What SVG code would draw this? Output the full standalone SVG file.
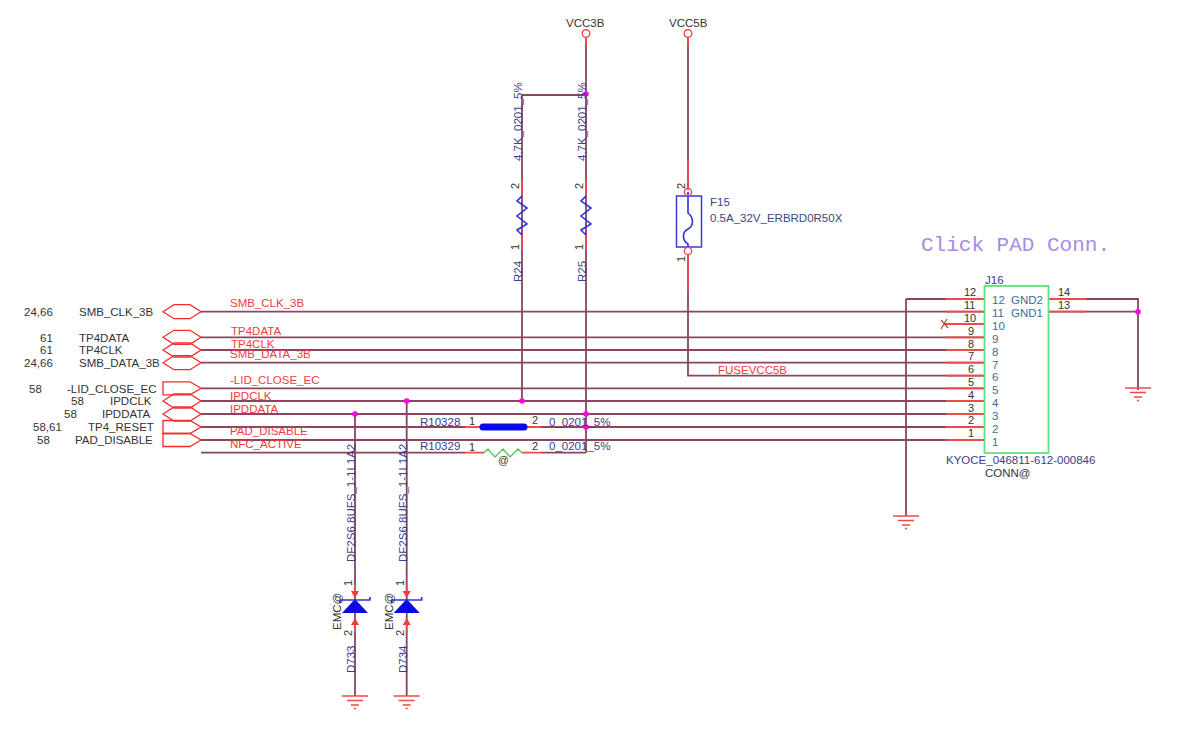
<svg xmlns="http://www.w3.org/2000/svg" width="1200" height="745" viewBox="0 0 1200 745">
<style>
text{font-family:"Liberation Sans",Arial,sans-serif;font-size:11.5px}
.w{fill:none;stroke:#8a4560;stroke-width:1.8}
.r{fill:none;stroke:#f24a4a;stroke-width:1.8}
.f{fill:none;stroke:#f02c2c;stroke-width:1.3}
.b{fill:none;stroke:#2f2fe0;stroke-width:1.6}
.n{fill:#f03c3c}
.t{fill:#333}
.u{fill:#3c3c8e}
.p{fill:#3f6c96}
.k{fill:#333;font-size:11px}
.g{fill:none;stroke:#f04a4a;stroke-width:1.3}
</style>
<defs>
<g id="gnd"><path class="g" d="M-13 0H13M-8 4.500H8M-4 9H4M-1 12.500H1"/></g>
<path id="bi" class="f" d="M-38 0L-27-7H-11L0 0L-11 7H-27Z"/>
<path id="in" class="f" d="M-38-6.500H-11L0 0L-11 6.500H-38Z"/>
</defs>
<g id="connectors">
<path class="w" d="M201 311.700H984M201 337.300H984M201 350H984M201 362.700H984M201 388.300H984M201 401H984M201 414H984M201 427H984M201 440H984"/>
<path class="w" d="M201 452.700H465M541 452.700H586M586 33V452.700M522 95H586M522 95V401M688 33V190M688 255V375.600H984M906 299H984M906 299V516M1048 299H1138V390M1048 311.700H1138M355 414V696M406.700 401V696"/>
<path class="r" d="M946 299H984M946 311.700H984M946 337.300H984M946 350H984M946 362.700H984M946 375.600H984M946 388.300H984M946 401H984M946 414H984M946 427H984M946 440H984M945 324H984M1048 299H1086M1048 311.700H1086M465 427H481M526 427H541M465 452.700H484M522 452.700H541M586 180V196M586 234V250M522 180V196M522 234V250M688 160V190M688 255V290M586 33V46M688 33V46M355 585V592M355 620V632M406.700 585V592M406.700 620V632"/>
<path d="M941 329L947 319M941 320L948 328" fill="none" stroke="#a8553a" stroke-width="1.300"/>
<g fill="#ff00e0"><circle cx="586" cy="94" r="2.800"/><circle cx="522" cy="401" r="2.800"/><circle cx="586" cy="414" r="2.800"/><circle cx="586" cy="427" r="2.800"/><circle cx="355" cy="414" r="2.800"/><circle cx="406.700" cy="401" r="2.800"/><circle cx="1138" cy="311.700" r="2.800"/></g>
</g>
<g id="flags">
<use href="#bi" x="201" y="311.700"/><use href="#bi" x="201" y="337.300"/><use href="#bi" x="201" y="350"/><use href="#bi" x="201" y="362.700"/>
<use href="#in" x="201" y="388.300"/><use href="#bi" x="201" y="401"/><use href="#bi" x="201" y="414"/><use href="#in" x="201" y="427"/><use href="#in" x="201" y="440"/>
<text x="24" y="316" class="t">24,66</text><text x="79" y="316" class="t">SMB_CLK_3B</text>
<text x="40" y="342" class="t">61</text><text x="79" y="342" class="t">TP4DATA</text>
<text x="40" y="354" class="t">61</text><text x="79" y="354" class="t">TP4CLK</text>
<text x="24" y="367" class="t">24,66</text><text x="79" y="367" class="t">SMB_DATA_3B</text>
<text x="29" y="393" class="t">58</text><text x="67" y="393" class="t">-LID_CLOSE_EC</text>
<text x="71" y="405" class="t">58</text><text x="110" y="405" class="t">IPDCLK</text>
<text x="64" y="418" class="t">58</text><text x="102" y="418" class="t">IPDDATA</text>
<text x="33" y="431" class="t">58,61</text><text x="88" y="431" class="t">TP4_RESET</text>
<text x="37" y="444" class="t">58</text><text x="75" y="444" class="t">PAD_DISABLE</text>
<text x="230" y="307" class="n">SMB_CLK_3B</text>
<text x="231" y="335" class="n">TP4DATA</text>
<text x="231" y="348" class="n">TP4CLK</text>
<text x="230" y="358" class="n">SMB_DATA_3B</text>
<text x="230" y="384" class="n">-LID_CLOSE_EC</text>
<text x="230" y="400" class="n">IPDCLK</text>
<text x="230" y="413" class="n">IPDDATA</text>
<text x="230" y="435" class="n">PAD_DISABLE</text>
<text x="230" y="448" class="n">NFC_ACTIVE</text>
<text x="718" y="374" class="n">FUSEVCC5B</text>
</g>
<g id="VCC3B"><circle cx="586" cy="33.500" r="3.800" fill="#fff" stroke="#f24a4a" stroke-width="1.400"/><text x="566" y="27" class="t">VCC3B</text></g>
<g id="VCC5B"><circle cx="688" cy="33.500" r="3.800" fill="#fff" stroke="#f24a4a" stroke-width="1.400"/><text x="669" y="27" class="t">VCC5B</text></g>
<g id="R24"><path class="b" d="M522 196L517 201L527 208L517 216L527 224L517 230L522 235"/>
<text transform="translate(522 161) rotate(-90)" class="u">4.7K_0201_5%</text>
<text transform="translate(522 282) rotate(-90)" class="u">R24</text>
<text transform="translate(519 189) rotate(-90)" class="k">2</text><text transform="translate(519 250) rotate(-90)" class="k">1</text></g>
<g id="R25"><path class="b" d="M586 196L581 201L591 208L581 216L591 224L581 230L586 235"/>
<text transform="translate(586 161) rotate(-90)" class="u">4.7K_0201_5%</text>
<text transform="translate(586 282) rotate(-90)" class="u">R25</text>
<text transform="translate(583 189) rotate(-90)" class="k">2</text><text transform="translate(583 250) rotate(-90)" class="k">1</text></g>
<g id="F15"><rect x="676.500" y="196" width="25" height="51" fill="#fff" stroke="#3a3ad8" stroke-width="1.500"/>
<path class="b" d="M688 192V213C694 218 694 226 688 229C682 232 682 240 688 244V247"/>
<circle cx="688" cy="192" r="3.600" fill="none" stroke="#f24a4a" stroke-width="1.400"/><circle cx="688" cy="251" r="3.600" fill="none" stroke="#f24a4a" stroke-width="1.400"/>
<text x="710" y="206" style="fill:#3a4a7a">F15</text><text x="710" y="222" style="fill:#3a4a7a">0.5A_32V_ERBRD0R50X</text>
<text transform="translate(685 189) rotate(-90)" class="k">2</text><text transform="translate(685 262) rotate(-90)" class="k">1</text></g>
<g id="J16"><rect x="984.500" y="286" width="64" height="167" fill="none" stroke="#5fe07a" stroke-width="1.800"/>
<text x="985" y="284" class="u">J16</text>
<text x="992" y="304" class="p">12</text><text x="992" y="317" class="p">11</text><text x="992" y="330" class="p">10</text><text x="992" y="343" class="p">9</text><text x="992" y="356" class="p">8</text><text x="992" y="369" class="p">7</text><text x="992" y="381" class="p">6</text><text x="992" y="394" class="p">5</text><text x="992" y="407" class="p">4</text><text x="992" y="420" class="p">3</text><text x="992" y="433" class="p">2</text><text x="992" y="446" class="p">1</text><text x="1011" y="304" class="p">GND2</text><text x="1011" y="317" class="p">GND1</text>
<text x="964" y="296" class="k">12</text><text x="964" y="309" class="k">11</text><text x="964" y="322" class="k">10</text><text x="968" y="335" class="k">9</text><text x="968" y="348" class="k">8</text><text x="968" y="360" class="k">7</text><text x="968" y="373" class="k">6</text><text x="968" y="386" class="k">5</text><text x="968" y="399" class="k">4</text><text x="968" y="412" class="k">3</text><text x="968" y="424" class="k">2</text><text x="968" y="437" class="k">1</text>
<text x="1058" y="296" class="k">14</text><text x="1058" y="309" class="k">13</text>
<text x="946" y="464" class="u">KYOCE_046811-612-000846</text><text x="985" y="477" class="t">CONN@</text>
<text x="921" y="251" style="font-family:'Liberation Mono',monospace;font-size:21px;fill:#a78be8">Click PAD Conn.</text></g>
<g id="R10328"><path d="M483 427H524" stroke="#0a0ae6" stroke-width="7" stroke-linecap="round" fill="none"/>
<text x="420" y="426" class="u">R10328</text><text x="469" y="425" class="k">1</text><text x="532" y="424" class="k">2</text><text x="549" y="426" class="u">0_0201_5%</text></g>
<g id="R10329"><path d="M484 452.700L488 449L495 457L503 449L510 457L518 449L522 452.700" fill="none" stroke="#5cc85c" stroke-width="1.500"/>
<text x="420" y="450" class="u">R10329</text><text x="469" y="451" class="k">1</text><text x="532" y="450" class="k">2</text><text x="549" y="450" class="u">0_0201_5%</text><text x="498" y="464" class="t" style="font-size:10.500px">@</text></g>
<g id="D733"><path d="M351 591H359L355 598Z" class="n"/><path d="M351 625H359L355 618Z" class="n"/>
<path d="M342 613H368L355 599Z" fill="#0a0ae6"/><path class="b" d="M340 603V600H370V597"/>
<text transform="translate(355 562) rotate(-90)" class="u">DF2S6.8UFS_1-1L1A2</text><text transform="translate(355 673) rotate(-90)" class="u">D733</text><text transform="translate(341 630) rotate(-90)" class="t">EMC@</text>
<text transform="translate(352 586) rotate(-90)" class="k">1</text><text transform="translate(352 636) rotate(-90)" class="k">2</text><use href="#gnd" x="355" y="696"/></g>
<g id="D734"><path d="M402.700 591H410.700L406.700 598Z" class="n"/><path d="M402.700 625H410.700L406.700 618Z" class="n"/>
<path d="M393.700 613H419.700L406.700 599Z" fill="#0a0ae6"/><path class="b" d="M391.700 603V600H421.700V597"/>
<text transform="translate(407 562) rotate(-90)" class="u">DF2S6.8UFS_1-1L1A2</text><text transform="translate(407 673) rotate(-90)" class="u">D734</text><text transform="translate(393 630) rotate(-90)" class="t">EMC@</text>
<text transform="translate(404 586) rotate(-90)" class="k">1</text><text transform="translate(404 636) rotate(-90)" class="k">2</text><use href="#gnd" x="406.700" y="696"/></g>
<g id="gnd-j16-left"><use href="#gnd" x="906" y="516"/></g>
<g id="gnd-j16-right"><use href="#gnd" x="1138" y="388"/></g>
</svg>
